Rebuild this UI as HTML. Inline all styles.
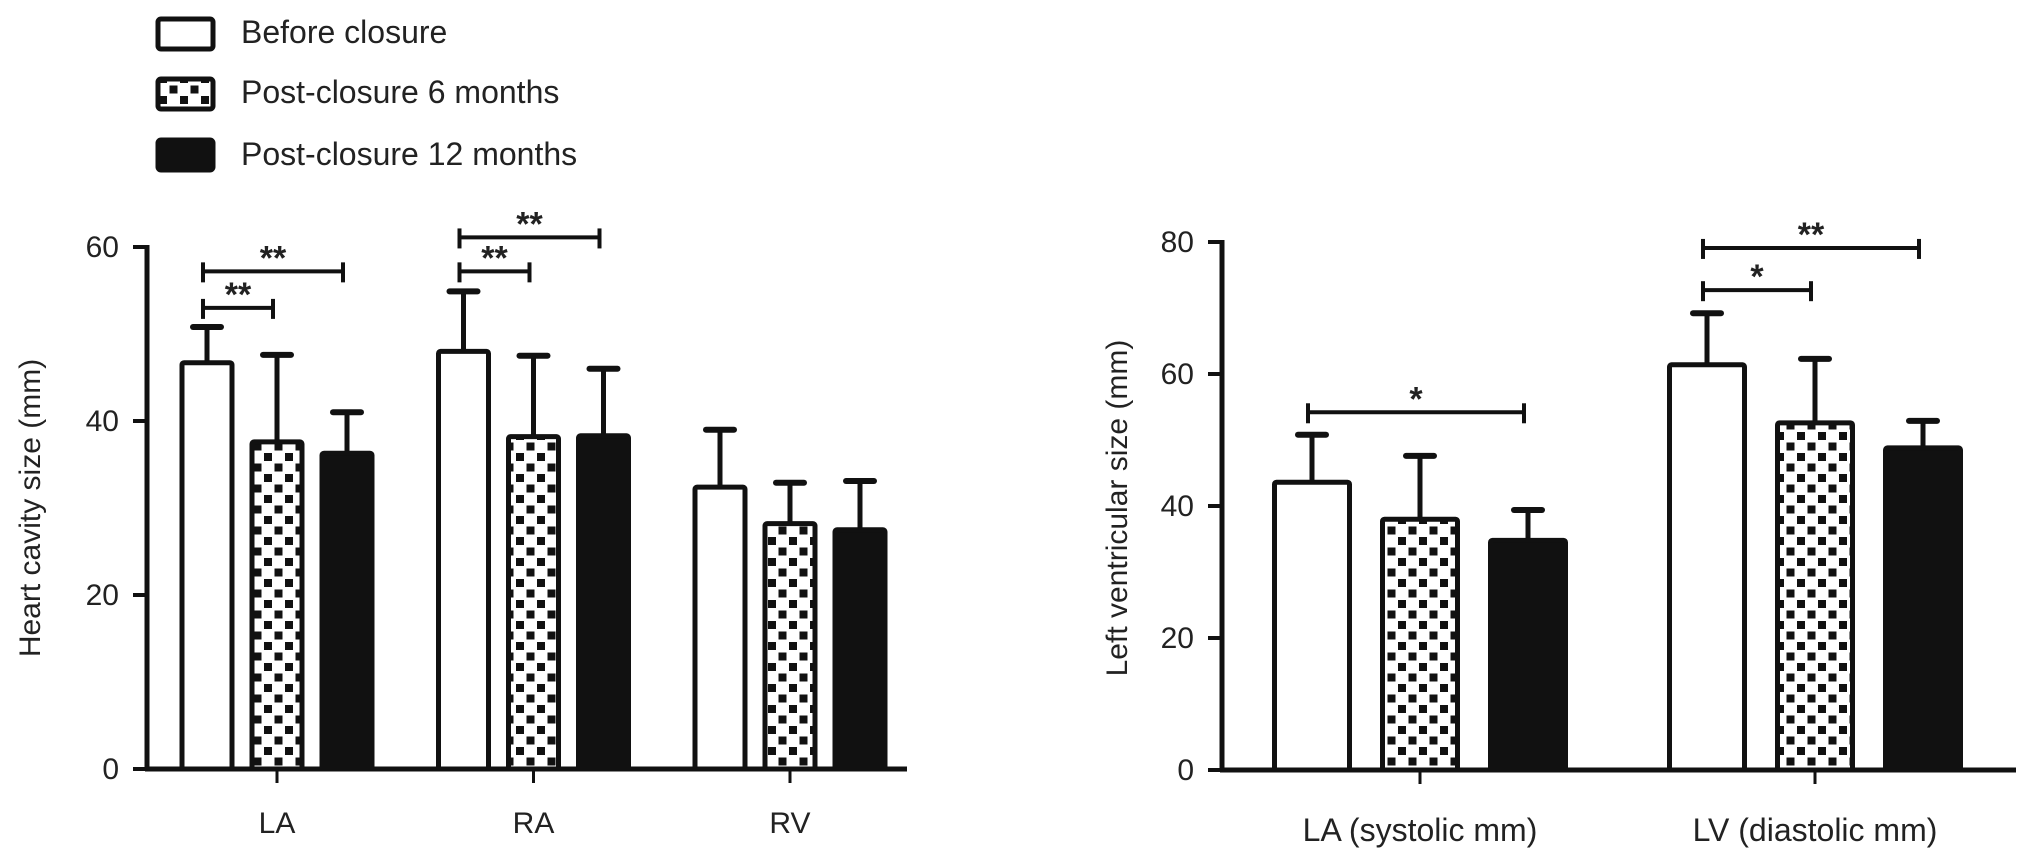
<!DOCTYPE html>
<html><head><meta charset="utf-8"><style>
html,body{margin:0;padding:0;background:#fff;}
svg{display:block;font-family:"Liberation Sans",Arial,sans-serif;}
</style></head><body>
<svg id="chart" width="2032" height="849" viewBox="0 0 2032 849" xmlns="http://www.w3.org/2000/svg">
<defs>
<pattern id="checker" patternUnits="userSpaceOnUse" width="21" height="21">
<rect width="21" height="21" fill="#fff"/>
<rect x="1.5" y="1.5" width="8" height="8" fill="#111"/>
<rect x="12" y="12" width="8" height="8" fill="#111"/>
</pattern>
</defs>
<g id="legend">
<g>
<rect x="158" y="19" width="55" height="30" rx="3" fill="#fff" stroke="#111" stroke-width="5"/>
<text x="241" y="43" font-size="32" fill="#222">Before closure</text></g>
<g>
<rect x="158" y="79" width="55" height="30" rx="3" fill="url(#checker)" stroke="#111" stroke-width="5"/>
<text x="241" y="103" font-size="32" fill="#222">Post-closure 6 months</text></g>
<g>
<rect x="158" y="140" width="55" height="30" rx="3" fill="#111" stroke="#111" stroke-width="5"/>
<text x="241" y="165" font-size="32" fill="#222">Post-closure 12 months</text></g>
</g>
<text transform="translate(40,508) rotate(-90)" text-anchor="middle" font-size="30" fill="#222">Heart cavity size (mm)</text>
<text transform="translate(1127,508) rotate(-90)" text-anchor="middle" font-size="30" fill="#222">Left ventricular size (mm)</text>
<g id="plots"></g>
</svg>
<script>
// Left chart data
const leftCategories = ["LA", "RA", "RV"];
const leftBefore = [46.7, 48.0, 32.4];
const leftBeforeErr = [50.8, 54.9, 39.0];
const left6m = [37.6, 38.2, 28.2];
const left6mErr = [47.6, 47.5, 32.9];
const left12m = [36.3, 38.3, 27.5];
const left12mErr = [41.0, 46.0, 33.1];
const leftTicks = [0, 20, 40, 60];
const leftSig = [[0, 0, 1, 53.0, "**"], [0, 0, 2, 57.2, "**"], [1, 0, 1, 57.2, "**"], [1, 0, 2, 61.1, "**"]];
// Right chart data
const rightCategories = ["LA (systolic mm)", "LV (diastolic mm)"];
const rightBefore = [43.6, 61.4];
const rightBeforeErr = [50.8, 69.2];
const right6m = [38.0, 52.6];
const right6mErr = [47.6, 62.3];
const right12m = [34.8, 48.8];
const right12mErr = [39.4, 52.9];
const rightTicks = [0, 20, 40, 60, 80];
const rightSig = [[0, 0, 2, 54.2, "*"], [1, 0, 1, 72.7, "*"], [1, 0, 2, 79.1, "**"]];

const NS = "http://www.w3.org/2000/svg";
const root = document.getElementById('plots');
function mk(tag, attrs, parent) {
  const e = document.createElementNS(NS, tag);
  for (const k in attrs) e.setAttribute(k, attrs[k]);
  (parent || root).appendChild(e);
  return e;
}
function drawChart(cfg) {
  const g = mk('g', {});
  
  
  const y = v => cfg.y0 - v * cfg.k;
  const x = (i, s) => cfg.centers0 + i * cfg.step + (s - 1) * cfg.off;
  const ax = mk('line', {x1: cfg.ax, y1: y(cfg.ticks[cfg.ticks.length - 1]) - 2, x2: cfg.ax, y2: cfg.y0 + 2, stroke: '#111', 'stroke-width': 5}, g);
  
  
  cfg.ticks.forEach(t => {
    mk('line', {x1: cfg.ax - 14, y1: y(t), x2: cfg.ax, y2: y(t), stroke: '#111', 'stroke-width': 4}, g);
    const tl = mk('text', {x: cfg.ax - 28, y: y(t) + 10, 'text-anchor': 'end', 'font-size': 30, fill: '#222'}, g);
    tl.textContent = t;
    
    
  });
  const series = [[cfg.before, cfg.beforeErr, '#fff'], [cfg.m6, cfg.m6Err, 'url(#checker)'], [cfg.m12, cfg.m12Err, '#111']];
  cfg.cats.forEach((c, i) => {
    series.forEach((s, si) => {
      const cx = x(i, si);
      const ey = y(s[1][i]);
      mk('line', {x1: cx, y1: ey, x2: cx, y2: y(s[0][i]), stroke: '#111', 'stroke-width': 5}, g);
      mk('line', {x1: cx - 14, y1: ey, x2: cx + 14, y2: ey, stroke: '#111', 'stroke-width': 6, 'stroke-linecap': 'round'}, g);
      const b = mk('rect', {x: cx - cfg.bw / 2, y: y(s[0][i]), width: cfg.bw, height: cfg.y0 - y(s[0][i]), rx: 2, fill: s[2], stroke: '#111', 'stroke-width': 5}, g);
      
      
    });
    mk('line', {x1: x(i, 1), y1: cfg.y0, x2: x(i, 1), y2: cfg.y0 + 14, stroke: '#111', 'stroke-width': 3}, g);
    const cl = mk('text', {x: x(i, 1), y: cfg.labelY, 'text-anchor': 'middle', 'font-size': cfg.labelSize, fill: '#222'}, g);
    cl.textContent = c;
    
    
  });
  const xa = mk('line', {x1: cfg.ax - 2, y1: cfg.y0, x2: cfg.xEnd, y2: cfg.y0, stroke: '#111', 'stroke-width': 5}, g);
  
  
  cfg.sig.forEach(s => {
    const x1 = x(s[0], s[1]) - 4, x2 = x(s[0], s[2]) - 4, yy = y(s[3]);
    const sg = mk('g', {}, g);
    
    
    mk('line', {x1: x1, y1: yy, x2: x2, y2: yy, stroke: '#111', 'stroke-width': 4}, sg);
    mk('line', {x1: x1, y1: yy - 9, x2: x1, y2: yy + 11, stroke: '#111', 'stroke-width': 4}, sg);
    mk('line', {x1: x2, y1: yy - 9, x2: x2, y2: yy + 11, stroke: '#111', 'stroke-width': 4}, sg);
    const st = mk('text', {x: (x1 + x2) / 2, y: yy - 2, 'text-anchor': 'middle', 'font-size': 34, 'font-weight': 'bold', fill: '#222'}, sg);
    st.textContent = s[4];
  });
}
drawChart({name: 'left-chart', cats: leftCategories, before: leftBefore, beforeErr: leftBeforeErr, m6: left6m, m6Err: left6mErr, m12: left12m, m12Err: left12mErr, ticks: leftTicks, sig: leftSig,
  y0: 769, k: 8.7, ax: 147, xEnd: 907, centers0: 277, step: 256.5, off: 70, bw: 50, labelY: 833, labelSize: 30});
drawChart({name: 'right-chart', cats: rightCategories, before: rightBefore, beforeErr: rightBeforeErr, m6: right6m, m6Err: right6mErr, m12: right12m, m12Err: right12mErr, ticks: rightTicks, sig: rightSig,
  y0: 770, k: 6.6, ax: 1222, xEnd: 2016, centers0: 1420, step: 395, off: 108, bw: 75, labelY: 841, labelSize: 32});
</script>
</body></html>
